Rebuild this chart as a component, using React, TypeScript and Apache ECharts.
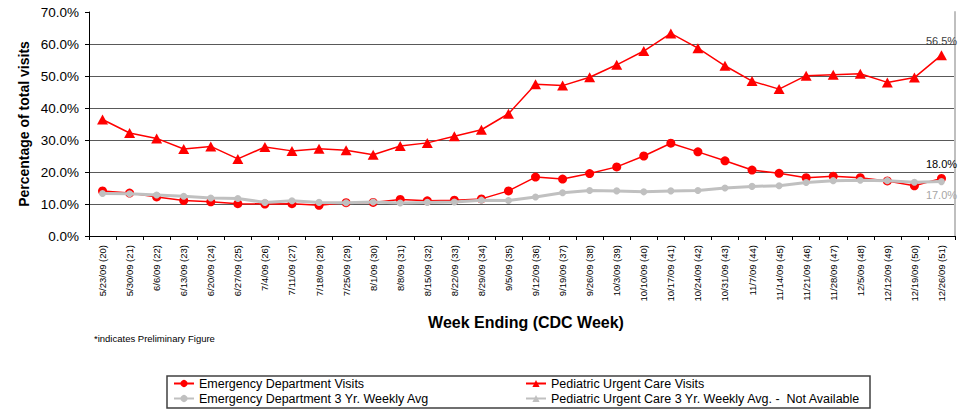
import React, { useEffect, useRef } from "react";
import * as echarts from "echarts";

const weeks = [
  "5/23/09 (20)", "5/30/09 (21)", "6/6/09 (22)", "6/13/09 (23)", "6/20/09 (24)", "6/27/09 (25)",
  "7/4/09 (26)", "7/11/09 (27)", "7/18/09 (28)", "7/25/09 (29)", "8/1/09 (30)", "8/8/09 (31)",
  "8/15/09 (32)", "8/22/09 (33)", "8/29/09 (34)", "9/5/09 (35)", "9/12/09 (36)", "9/19/09 (37)",
  "9/26/09 (38)", "10/3/09 (39)", "10/10/09 (40)", "10/17/09 (41)", "10/24/09 (42)", "10/31/09 (43)",
  "11/7/09 (44)", "11/14/09 (45)", "11/21/09 (46)", "11/28/09 (47)", "12/5/09 (48)", "12/12/09 (49)",
  "12/19/09 (50)", "12/26/09 (51)",
];

const edVisits = [
  14.1, 13.4, 12.2, 11.1, 10.7, 10.1, 10.0, 10.1, 9.6, 10.4, 10.5, 11.4, 11.0, 11.2, 11.6, 14.1,
  18.4, 17.8, 19.5, 21.6, 25.0, 29.0, 26.3, 23.5, 20.6, 19.6, 18.2, 18.7, 18.2, 17.2, 15.7, 18.0,
];

const pedVisits = [
  36.4, 32.2, 30.5, 27.2, 28.0, 24.1, 27.8, 26.6, 27.3, 26.8, 25.4, 28.1, 29.1, 31.2, 33.2, 38.2,
  47.4, 47.0, 49.6, 53.5, 57.8, 63.3, 58.7, 53.2, 48.4, 45.9, 50.1, 50.4, 50.7, 48.0, 49.5, 56.5,
];

const edAvg = [
  13.3, 13.2, 12.8, 12.4, 11.9, 11.7, 10.5, 11.0, 10.5, 10.4, 10.6, 10.3, 10.5, 10.6, 11.2, 11.1,
  12.2, 13.5, 14.2, 14.1, 13.8, 14.1, 14.2, 15.0, 15.5, 15.7, 16.7, 17.3, 17.4, 17.3, 16.8, 17.0,
];

const pedAvg: number[] = [];

const seriesNames = [
  "Emergency Department Visits",
  "Pediatric Urgent Care Visits",
  "Emergency Department 3 Yr. Weekly Avg",
  "Pediatric Urgent Care 3 Yr. Weekly Avg. -  Not Available",
];

const FONT = "'Liberation Sans', Arial, Helvetica, sans-serif";

function withLastLabel(values: number[], label: any) {
  return values.map((v, i) =>
    i === values.length - 1 ? { value: v, label: { show: true, ...label } } : v
  );
}

export default function App() {
  const ref = useRef<HTMLDivElement>(null);

  useEffect(() => {
    if (!ref.current) return;
    const chart = echarts.init(ref.current, null, { renderer: "svg" });
    const gridColors = ["#595959", "#595959", "#595959", "#595959", "#595959", "#595959", "#595959", "rgba(0,0,0,0)"];
    chart.setOption({
      animation: false,
      backgroundColor: "#ffffff",
      textStyle: { fontFamily: FONT },
      grid: { left: 89, right: 17, top: 12, bottom: 181, containLabel: false },
      xAxis: {
        type: "category",
        data: weeks,
        boundaryGap: true,
        axisLine: { show: true, lineStyle: { color: "#000000", width: 1 } },
        axisTick: { show: true, length: 4, alignWithLabel: false, lineStyle: { color: "#000000" } },
        axisLabel: {
          rotate: 90,
          interval: 0,
          margin: 9,
          fontSize: 9.5,
          color: "#000000",
          fontFamily: FONT,
        },
        splitLine: { show: false },
      },
      yAxis: [
        {
          type: "value",
          min: 0,
          max: 70,
          interval: 10,
          axisLine: { show: true, lineStyle: { color: "#000000", width: 1 } },
          axisTick: { show: true, length: 4, lineStyle: { color: "#000000" } },
          axisLabel: {
            formatter: (v: number) => v.toFixed(1) + "%",
            fontSize: 13.5,
            color: "#000000",
            margin: 10,
            fontFamily: FONT,
          },
          splitLine: { show: true, lineStyle: { color: gridColors, width: 1 } },
        },
        {
          type: "value",
          position: "right",
          min: 0,
          max: 70,
          interval: 10,
          axisLine: { show: true, lineStyle: { color: "#bfbfbf", width: 2 } },
          axisTick: { show: false },
          axisLabel: { show: false },
          splitLine: { show: false },
        },
      ],
      legend: [
        {
          orient: "vertical",
          left: 173,
          top: 377,
          itemWidth: 20,
          itemHeight: 9,
          itemGap: 2,
          padding: 0,
          textStyle: { fontSize: 12.5, color: "#000000", fontFamily: FONT },
          data: [seriesNames[0], seriesNames[2]],
        },
        {
          orient: "vertical",
          left: 525,
          top: 377,
          itemWidth: 20,
          itemHeight: 9,
          itemGap: 2,
          padding: 0,
          textStyle: { fontSize: 12.5, color: "#000000", fontFamily: FONT },
          data: [seriesNames[1], seriesNames[3]],
        },
      ],
      graphic: [
        {
          type: "rect",
          shape: { x: 167, y: 376, width: 703, height: 32 },
          style: { fill: "none", stroke: "#404040", lineWidth: 1.5 },
          silent: true,
        },
        {
          type: "text",
          x: 24,
          y: 124,
          rotation: Math.PI / 2,
          style: {
            text: "Percentage of total visits",
            font: `bold 14px ${FONT}`,
            fill: "#000000",
            align: "center",
            verticalAlign: "middle",
          },
        },
        {
          type: "text",
          x: 526,
          y: 322,
          style: {
            text: "Week Ending (CDC Week)",
            font: `bold 16px ${FONT}`,
            fill: "#000000",
            align: "center",
            verticalAlign: "middle",
          },
        },
        {
          type: "text",
          x: 94,
          y: 338,
          style: {
            text: "*indicates Preliminary Figure",
            font: `9.5px ${FONT}`,
            fill: "#000000",
            align: "left",
            verticalAlign: "middle",
          },
        },
      ],
      series: [
        {
          name: seriesNames[0],
          type: "line",
          data: withLastLabel(edVisits, {
            position: "top",
            distance: 4,
            formatter: "18.0%",
            fontSize: 11,
            color: "#000000",
            fontFamily: FONT,
          }),
          symbol: "circle",
          symbolSize: 9,
          itemStyle: { color: "#ff0000" },
          lineStyle: { color: "#ff0000", width: 1.5 },
          z: 3,
        },
        {
          name: seriesNames[1],
          type: "line",
          data: withLastLabel(pedVisits, {
            position: "top",
            distance: 4,
            formatter: "56.5%",
            fontSize: 11,
            color: "#404040",
            fontFamily: FONT,
          }),
          symbol: "triangle",
          symbolSize: [11, 10],
          itemStyle: { color: "#ff0000" },
          lineStyle: { color: "#ff0000", width: 1.5 },
          z: 3,
        },
        {
          name: seriesNames[2],
          type: "line",
          data: withLastLabel(edAvg, {
            position: "bottom",
            distance: 4,
            formatter: "17.0%",
            fontSize: 11,
            color: "#a6a6a6",
            fontFamily: FONT,
          }),
          symbol: "circle",
          symbolSize: 7,
          itemStyle: { color: "#c0c0c0" },
          lineStyle: { color: "#c0c0c0", width: 3 },
          z: 4,
        },
        {
          name: seriesNames[3],
          type: "line",
          data: pedAvg,
          symbol: "triangle",
          symbolSize: 7,
          itemStyle: { color: "#c0c0c0" },
          lineStyle: { color: "#c0c0c0", width: 2 },
        },
      ],
    });
    return () => chart.dispose();
  }, []);

  return (
    <div
      ref={ref}
      style={{ position: "fixed", left: 0, top: 0, width: 972, height: 417, background: "#fff" }}
    />
  );
}
